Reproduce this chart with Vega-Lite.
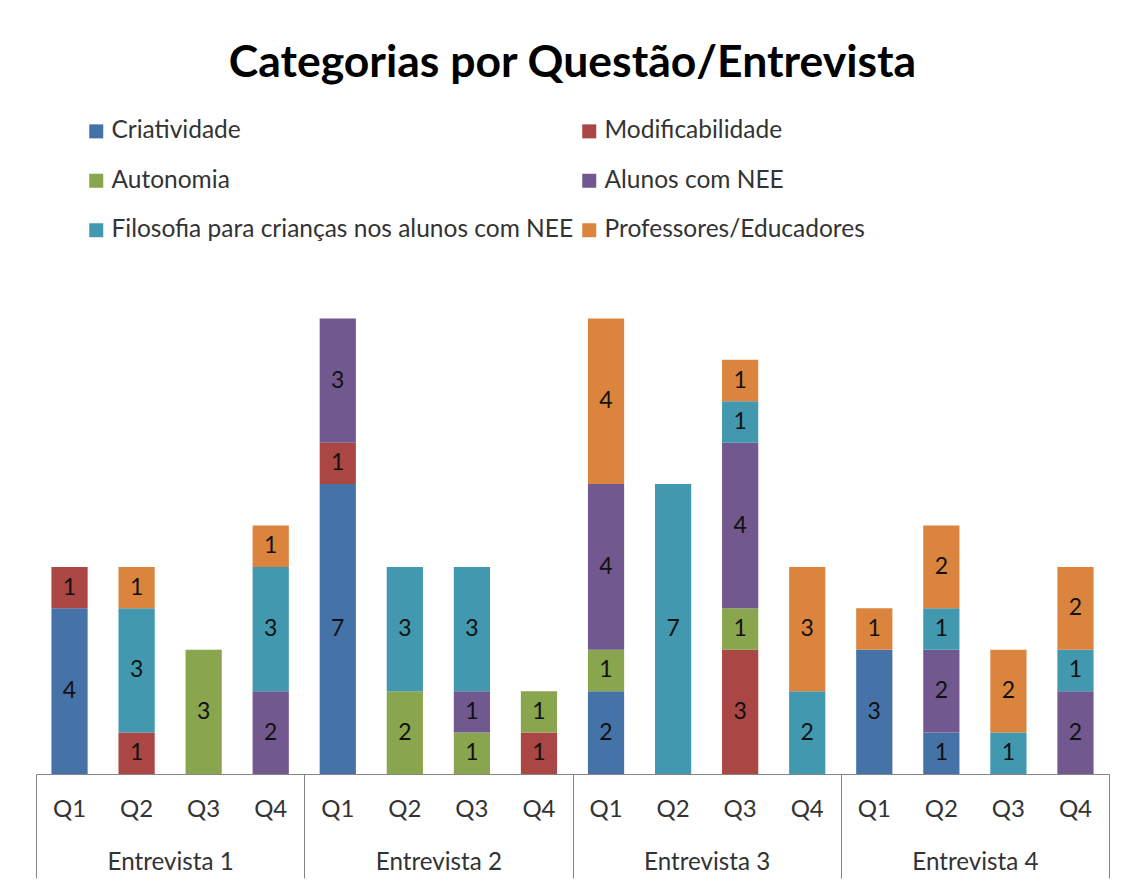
{
  "$schema": "https://vega.github.io/schema/vega-lite/v6.json",
  "width": 1073,
  "height": 497,
  "autosize": {"type": "none"},
  "padding": {"left": 36, "top": 277, "right": 23, "bottom": 112},
  "background": "white",
  "config": {"view": {"stroke": null}, "font": "Lato"},
  "title": {"text": "Categorias por Questão/Entrevista", "fontSize": 44.5, "font": "Lato", "fontWeight": "bold", "color": "black", "anchor": "middle", "frame": "group", "offset": 33},
  "data": {"values": [
    {"e": "Entrevista 1", "q": "Q1", "k": "Entrevista 1|Q1", "c": "Criatividade", "n": 1, "v": 4},
    {"e": "Entrevista 1", "q": "Q1", "k": "Entrevista 1|Q1", "c": "Modificabilidade", "n": 2, "v": 1},
    {"e": "Entrevista 1", "q": "Q2", "k": "Entrevista 1|Q2", "c": "Modificabilidade", "n": 2, "v": 1},
    {"e": "Entrevista 1", "q": "Q2", "k": "Entrevista 1|Q2", "c": "Filosofia para crianças nos alunos com NEE", "n": 5, "v": 3},
    {"e": "Entrevista 1", "q": "Q2", "k": "Entrevista 1|Q2", "c": "Professores/Educadores", "n": 6, "v": 1},
    {"e": "Entrevista 1", "q": "Q3", "k": "Entrevista 1|Q3", "c": "Autonomia", "n": 3, "v": 3},
    {"e": "Entrevista 1", "q": "Q4", "k": "Entrevista 1|Q4", "c": "Alunos com NEE", "n": 4, "v": 2},
    {"e": "Entrevista 1", "q": "Q4", "k": "Entrevista 1|Q4", "c": "Filosofia para crianças nos alunos com NEE", "n": 5, "v": 3},
    {"e": "Entrevista 1", "q": "Q4", "k": "Entrevista 1|Q4", "c": "Professores/Educadores", "n": 6, "v": 1},
    {"e": "Entrevista 2", "q": "Q1", "k": "Entrevista 2|Q1", "c": "Criatividade", "n": 1, "v": 7},
    {"e": "Entrevista 2", "q": "Q1", "k": "Entrevista 2|Q1", "c": "Modificabilidade", "n": 2, "v": 1},
    {"e": "Entrevista 2", "q": "Q1", "k": "Entrevista 2|Q1", "c": "Alunos com NEE", "n": 4, "v": 3},
    {"e": "Entrevista 2", "q": "Q2", "k": "Entrevista 2|Q2", "c": "Autonomia", "n": 3, "v": 2},
    {"e": "Entrevista 2", "q": "Q2", "k": "Entrevista 2|Q2", "c": "Filosofia para crianças nos alunos com NEE", "n": 5, "v": 3},
    {"e": "Entrevista 2", "q": "Q3", "k": "Entrevista 2|Q3", "c": "Autonomia", "n": 3, "v": 1},
    {"e": "Entrevista 2", "q": "Q3", "k": "Entrevista 2|Q3", "c": "Alunos com NEE", "n": 4, "v": 1},
    {"e": "Entrevista 2", "q": "Q3", "k": "Entrevista 2|Q3", "c": "Filosofia para crianças nos alunos com NEE", "n": 5, "v": 3},
    {"e": "Entrevista 2", "q": "Q4", "k": "Entrevista 2|Q4", "c": "Modificabilidade", "n": 2, "v": 1},
    {"e": "Entrevista 2", "q": "Q4", "k": "Entrevista 2|Q4", "c": "Autonomia", "n": 3, "v": 1},
    {"e": "Entrevista 3", "q": "Q1", "k": "Entrevista 3|Q1", "c": "Criatividade", "n": 1, "v": 2},
    {"e": "Entrevista 3", "q": "Q1", "k": "Entrevista 3|Q1", "c": "Autonomia", "n": 3, "v": 1},
    {"e": "Entrevista 3", "q": "Q1", "k": "Entrevista 3|Q1", "c": "Alunos com NEE", "n": 4, "v": 4},
    {"e": "Entrevista 3", "q": "Q1", "k": "Entrevista 3|Q1", "c": "Professores/Educadores", "n": 6, "v": 4},
    {"e": "Entrevista 3", "q": "Q2", "k": "Entrevista 3|Q2", "c": "Filosofia para crianças nos alunos com NEE", "n": 5, "v": 7},
    {"e": "Entrevista 3", "q": "Q3", "k": "Entrevista 3|Q3", "c": "Modificabilidade", "n": 2, "v": 3},
    {"e": "Entrevista 3", "q": "Q3", "k": "Entrevista 3|Q3", "c": "Autonomia", "n": 3, "v": 1},
    {"e": "Entrevista 3", "q": "Q3", "k": "Entrevista 3|Q3", "c": "Alunos com NEE", "n": 4, "v": 4},
    {"e": "Entrevista 3", "q": "Q3", "k": "Entrevista 3|Q3", "c": "Filosofia para crianças nos alunos com NEE", "n": 5, "v": 1},
    {"e": "Entrevista 3", "q": "Q3", "k": "Entrevista 3|Q3", "c": "Professores/Educadores", "n": 6, "v": 1},
    {"e": "Entrevista 3", "q": "Q4", "k": "Entrevista 3|Q4", "c": "Filosofia para crianças nos alunos com NEE", "n": 5, "v": 2},
    {"e": "Entrevista 3", "q": "Q4", "k": "Entrevista 3|Q4", "c": "Professores/Educadores", "n": 6, "v": 3},
    {"e": "Entrevista 4", "q": "Q1", "k": "Entrevista 4|Q1", "c": "Criatividade", "n": 1, "v": 3},
    {"e": "Entrevista 4", "q": "Q1", "k": "Entrevista 4|Q1", "c": "Professores/Educadores", "n": 6, "v": 1},
    {"e": "Entrevista 4", "q": "Q2", "k": "Entrevista 4|Q2", "c": "Criatividade", "n": 1, "v": 1},
    {"e": "Entrevista 4", "q": "Q2", "k": "Entrevista 4|Q2", "c": "Alunos com NEE", "n": 4, "v": 2},
    {"e": "Entrevista 4", "q": "Q2", "k": "Entrevista 4|Q2", "c": "Filosofia para crianças nos alunos com NEE", "n": 5, "v": 1},
    {"e": "Entrevista 4", "q": "Q2", "k": "Entrevista 4|Q2", "c": "Professores/Educadores", "n": 6, "v": 2},
    {"e": "Entrevista 4", "q": "Q3", "k": "Entrevista 4|Q3", "c": "Filosofia para crianças nos alunos com NEE", "n": 5, "v": 1},
    {"e": "Entrevista 4", "q": "Q3", "k": "Entrevista 4|Q3", "c": "Professores/Educadores", "n": 6, "v": 2},
    {"e": "Entrevista 4", "q": "Q4", "k": "Entrevista 4|Q4", "c": "Alunos com NEE", "n": 4, "v": 2},
    {"e": "Entrevista 4", "q": "Q4", "k": "Entrevista 4|Q4", "c": "Filosofia para crianças nos alunos com NEE", "n": 5, "v": 1},
    {"e": "Entrevista 4", "q": "Q4", "k": "Entrevista 4|Q4", "c": "Professores/Educadores", "n": 6, "v": 2}
  ]},
  "layer": [
    {
      "layer": [
        {
          "mark": {"type": "bar"},
          "encoding": {
            "x": {"field": "k", "type": "nominal", "scale": {"paddingInner": 0.46, "paddingOuter": 0.23},
              "axis": {"title": null, "orient": "bottom", "labelExpr": "split(datum.label, '|')[1]", "labelAngle": 0, "labelFontSize": 24, "labelFont": "Lato", "labelColor": "#333333", "labelPadding": 23, "ticks": false, "tickSize": 0, "domain": true, "domainColor": "#868686", "domainWidth": 1, "grid": false, "labelOverlap": false}},
            "y": {"field": "v", "type": "quantitative", "stack": "zero", "scale": {"domain": [0, 12], "nice": false}, "axis": null},
            "color": {"field": "c", "type": "nominal",
              "scale": {"domain": ["Criatividade", "Autonomia", "Filosofia para crianças nos alunos com NEE", "Modificabilidade", "Alunos com NEE", "Professores/Educadores"],
                        "range": ["#4572A7", "#89A54E", "#4198AF", "#AA4643", "#71588F", "#DB843D"]},
              "legend": {"orient": "none", "legendX": 48, "legendY": -158, "columns": 2, "title": null, "symbolType": "square", "symbolSize": 196, "symbolStrokeWidth": 0, "labelFontSize": 24.5, "labelFont": "Lato", "labelColor": "#333333", "rowPadding": 24.5, "columnPadding": 3, "labelOffset": 3, "padding": 0, "labelLimit": 0}},
            "order": {"field": "n", "type": "quantitative"}
          }
        },
        {
          "mark": {"type": "text", "fontSize": 23, "font": "Lato", "color": "#111111"},
          "encoding": {
            "x": {"field": "k", "type": "nominal"},
            "y": {"field": "v", "type": "quantitative", "stack": "zero", "bandPosition": 0.5},
            "detail": {"field": "c"},
            "order": {"field": "n", "type": "quantitative"},
            "text": {"field": "v", "type": "quantitative"}
          }
        }
      ]
    },
    {
      "mark": {"type": "text"},
      "encoding": {
        "x": {"field": "e", "type": "nominal", "scale": {"paddingInner": 0, "paddingOuter": 0},
          "axis": {"title": null, "orient": "bottom", "labelAngle": 0, "labelFontSize": 24.2, "labelFont": "Lato", "labelColor": "#333333", "domain": false, "ticks": true, "tickBand": "extent", "tickSize": 104, "tickColor": "#868686", "tickWidth": 1, "labelPadding": -28, "grid": false}},
        "text": {"value": ""}
      }
    }
  ],
  "resolve": {"scale": {"x": "independent"}, "axis": {"x": "independent"}}
}
